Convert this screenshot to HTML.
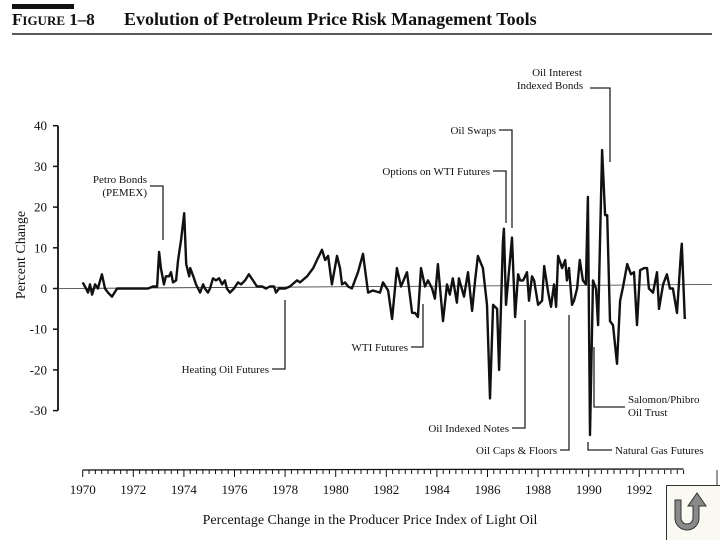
<!DOCTYPE html>
<html><head><meta charset="utf-8"><style>
html,body{margin:0;padding:0;background:#fff;}
body{width:720px;height:540px;overflow:hidden;font-family:"Liberation Serif",serif;}
svg text{font-family:"Liberation Serif",serif;fill:#111;}
</style></head><body>
<svg id="chart" width="720" height="540" viewBox="0 0 720 540" xmlns="http://www.w3.org/2000/svg">
  <rect x="12" y="4" width="62" height="5" fill="#111"/>
  <text x="12" y="25" font-size="17" font-weight="bold">F<tspan font-size="13">IGURE</tspan> 1–8</text>
  <text x="124" y="25" font-size="18" font-weight="bold">Evolution of Petroleum Price Risk Management Tools</text>
  <line x1="12" y1="34" x2="712" y2="34" stroke="#222" stroke-width="1.5"/>
  <text transform="translate(25,255) rotate(-90)" text-anchor="middle" font-size="14">Percent Change</text>
  <text x="370" y="524" text-anchor="middle" font-size="14">Percentage Change in the Producer Price Index of Light Oil</text>
  <g id="yaxis"></g>
  <g id="xaxis"></g>
  <g id="series"></g>
  <g id="notes" stroke="#222" stroke-width="1.3" fill="none">
    <polyline points="150,186 163,186 163,240"/>
    <polyline points="272,369 285,369 285,300"/>
    <polyline points="411,347 423,347 423,304"/>
    <polyline points="499,130 512,130 512,228"/>
    <polyline points="493,171 506,171 506,223"/>
    <polyline points="590,88 610,88 610,162"/>
    <polyline points="512,428 525,428 525,320"/>
    <polyline points="560,450 569,450 569,315"/>
    <polyline points="594,347 594,407 625,407"/>
    <polyline points="588,442 588,450 612,450"/>
  </g>
  <g font-size="11">
    <text x="147" y="183" text-anchor="end">Petro Bonds</text>
    <text x="147" y="196" text-anchor="end">(PEMEX)</text>
    <text x="269" y="373" text-anchor="end">Heating Oil Futures</text>
    <text x="408" y="351" text-anchor="end">WTI Futures</text>
    <text x="496" y="134" text-anchor="end">Oil Swaps</text>
    <text x="490" y="175" text-anchor="end">Options on WTI Futures</text>
    <text x="557" y="76" text-anchor="middle">Oil Interest</text>
    <text x="550" y="89" text-anchor="middle">Indexed Bonds</text>
    <text x="509" y="432" text-anchor="end">Oil Indexed Notes</text>
    <text x="557" y="454" text-anchor="end">Oil Caps &amp; Floors</text>
    <text x="628" y="403">Salomon/Phibro</text>
    <text x="628" y="416">Oil Trust</text>
    <text x="615" y="454">Natural Gas Futures</text>
  </g>
  <g>
    <line x1="717" y1="470" x2="717" y2="486" stroke="#333" stroke-width="1"/>
    <rect x="666.5" y="485.5" width="60" height="60" fill="#fbfaf2" stroke="#333" stroke-width="1"/>
    <path d="M675,500 L675,518 A12,12 0 0 0 699,518 L699,506 L706,506 L697,493 L688,506 L693,506 L693,518 A6,6 0 0 1 681,518 L681,500 Z" fill="#8a8a8a" stroke="#333" stroke-width="1"/>
  </g>
</svg>
<script>
const yTicks = [40,30,20,10,0,-10,-20,-30];
const xLabels = [1970,1972,1974,1976,1978,1980,1982,1984,1986,1988,1990,1992];
const years = [1970.0,1970.13,1970.21,1970.29,1970.37,1970.49,1970.6,1970.76,1970.88,1971.0,1971.16,1971.36,1972.58,1972.78,1972.94,1973.02,1973.09,1973.21,1973.29,1973.41,1973.49,1973.57,1973.69,1973.77,1973.89,1974.01,1974.09,1974.21,1974.25,1974.37,1974.48,1974.56,1974.64,1974.76,1974.83,1974.95,1975.03,1975.15,1975.27,1975.39,1975.51,1975.62,1975.7,1975.82,1975.98,1976.14,1976.26,1976.42,1976.57,1976.73,1976.89,1977.09,1977.25,1977.4,1977.56,1977.64,1977.76,1978.0,1978.19,1978.47,1978.59,1978.87,1979.11,1979.26,1979.46,1979.58,1979.7,1979.85,1980.05,1980.17,1980.25,1980.37,1980.49,1980.64,1980.76,1980.88,1981.08,1981.28,1981.47,1981.75,1981.87,1982.07,1982.23,1982.42,1982.58,1982.82,1983.02,1983.14,1983.25,1983.37,1983.53,1983.65,1983.81,1983.92,1984.04,1984.24,1984.4,1984.51,1984.63,1984.79,1984.87,1985.07,1985.23,1985.39,1985.51,1985.62,1985.82,1985.98,1986.1,1986.22,1986.38,1986.46,1986.61,1986.65,1986.73,1986.97,1987.09,1987.21,1987.29,1987.41,1987.56,1987.64,1987.76,1987.84,1988.0,1988.16,1988.24,1988.4,1988.51,1988.63,1988.71,1988.79,1988.95,1989.07,1989.14,1989.22,1989.34,1989.42,1989.54,1989.65,1989.77,1989.89,1989.97,1990.05,1990.17,1990.29,1990.37,1990.53,1990.65,1990.73,1990.84,1990.96,1991.12,1991.24,1991.36,1991.52,1991.67,1991.79,1991.91,1992.03,1992.19,1992.31,1992.38,1992.54,1992.7,1992.78,1992.94,1993.09,1993.21,1993.33,1993.49,1993.65,1993.68,1993.8];
const pctChange = [1.5,0,-1,1,-1.5,1,0,3.5,0,-1,-2,0,0,0.5,0.5,9,5,1,3,3,4,1.5,2,7,12,18.5,6,3,5,3,1,0,-1,1,0,-1,0,2.5,2,2.5,1,2,0,-1,0,1.5,1,2,3.5,2,0.5,0.5,0,0.5,0.5,-1,0,0,0.5,2,1.5,3,5,7,9.5,7,8,1,8,5,1,1.5,0.5,0,2,4,8.5,-1,-0.5,-1,1.5,-0.5,-7.5,5,0.5,4,-6,-6,-7,5,0.5,2,0,-2.5,6,-8,1,-1.5,2.5,-3.5,2.5,-2,4,-5.5,2,8,5,-4,-27,-4,-5,-20,11.5,14.7,-4,12.5,-7,3.5,2,2,4,-3,3,2,-4,-3,5.5,-1,-4.5,1,-4.5,8,5,7,2,5,-4,-3,0,7,2,1,22.5,-36,2,0,-9,34,18,18,-8,-9,-18.5,-3,0.5,6,3.5,4,-9,4.5,5,5,0,-1,4,-5,1,3.5,0,0,-6,9,11,-7.5];

const NS = "http://www.w3.org/2000/svg";
function xs(yr){ return 82.7 + (yr-1970)*25.3; }
function ys(v){ return 288.5 - v*4.07; }
function mk(tag, attrs, parent){ const e=document.createElementNS(NS,tag); for(const k in attrs) e.setAttribute(k,attrs[k]); parent.appendChild(e); return e; }

const yax = document.getElementById('yaxis');
const yl = mk('line',{x1:58,y1:ys(40),x2:58,y2:ys(-30),stroke:'#111','stroke-width':1.8},yax);


yTicks.forEach(t=>{
  const tk = mk('line',{x1:53,y1:ys(t),x2:58,y2:ys(t),stroke:'#111','stroke-width':1.5},yax);
  
  
  const tx = mk('text',{x:47,y:ys(t)+4.5,'text-anchor':'end','font-size':13},yax);
  tx.textContent = t;
  
  
});
const zl = mk('line',{x1:58,y1:ys(0),x2:712,y2:ys(0)-4,stroke:'#333','stroke-width':0.8},yax);



const xax = document.getElementById('xaxis');
const xl = mk('line',{x1:xs(1970),y1:470,x2:xs(1993.75),y2:469,stroke:'#111','stroke-width':1.3},xax);


for(let q=0;q<=95;q++){
  const yr = 1970 + q/4;
  const major = q%8===0;
  const tk = mk('line',{x1:xs(yr),y1:470,x2:xs(yr),y2:major?477:474,stroke:'#111','stroke-width':1},xax);
  
  
}
xLabels.forEach(yr=>{
  const tx = mk('text',{x:xs(yr),y:494,'text-anchor':'middle','font-size':13},xax);
  tx.textContent = yr;
  
  
});

const ser = document.getElementById('series');
const pts = years.map((yr,i)=>xs(yr).toFixed(1)+','+ys(pctChange[i]).toFixed(1)).join(' ');
const pl = mk('polyline',{points:pts,fill:'none',stroke:'#111','stroke-width':2.4,'stroke-linejoin':'round'},ser);


</script>
</body></html>
